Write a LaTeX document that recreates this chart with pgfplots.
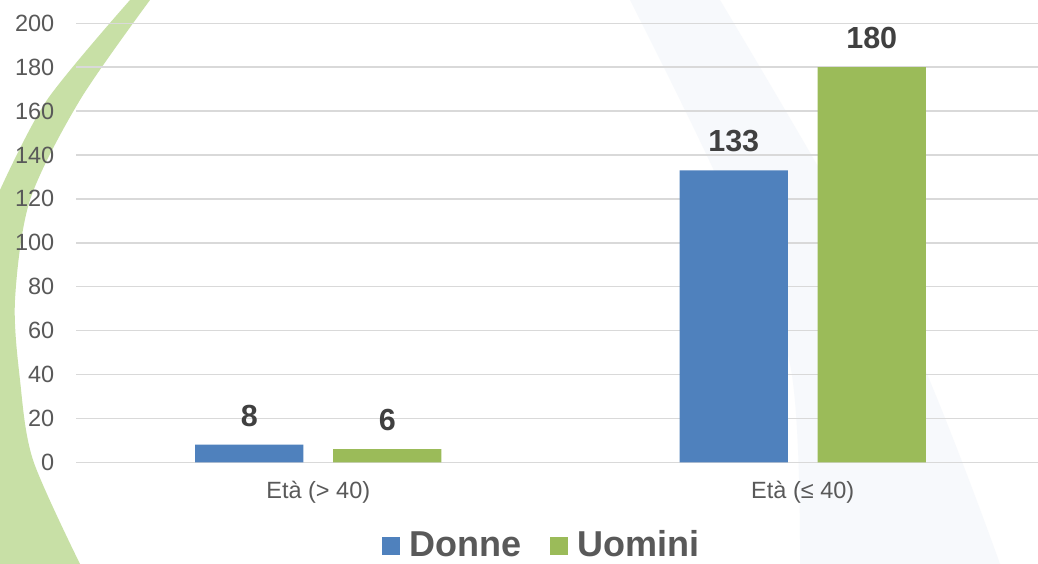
\documentclass[border=0pt]{standalone}
\usepackage{fontspec}
\setmainfont{Liberation Sans}
\usepackage{pgfplots}
\pgfplotsset{compat=1.18}
\definecolor{cblue}{HTML}{4F81BD}
\definecolor{cgreen}{HTML}{9BBB59}
\definecolor{txt}{HTML}{595959}
\definecolor{lbl}{HTML}{404040}
\definecolor{gridc}{HTML}{D9D9D9}
\definecolor{swoosh}{HTML}{C8E0A6}
\definecolor{faint}{HTML}{F7F9FC}
\begin{document}
\begin{tikzpicture}[x=1pt,y=1pt]
\useasboundingbox (0,0) rectangle (1038,564);
\fill[white] (0,0) rectangle (1038,564);
\begin{scope}
\clip (0,0) rectangle (1038,564);
\fill[faint] plot[smooth] coordinates {(630,564) (720,380) (790,200) (800,0)} -- (1000,0) -- plot[smooth] coordinates {(1000,0) (900,250) (720,564)} -- cycle;
\fill[swoosh] plot[smooth] coordinates {(130,564) (47,464) (0,374)} -- (0,0) -- (80,0) -- plot[smooth] coordinates {(80,0) (33,104) (20,184) (15,264) (30,364) (80,464) (150,564)} -- cycle;
\end{scope}
\begin{axis}[
  at={(76pt,101.7pt)}, anchor=south west,
  width=969pt, height=439pt, scale only axis,
  xmin=-0.5, xmax=1.5, ymin=0, ymax=200,
  ybar, bar width=0.223,
  axis line style={draw=none},
  major tick length=0pt,
  ytick={0,20,...,200},
  ymajorgrids, grid style={gridc, line width=1.5pt},
  xtick={0,1}, xticklabels={Età (> 40), Età (≤ 40)},
  /pgf/number format/assume math mode=true,
  yticklabel style={font=\fontsize{23.5}{28}\selectfont, text=txt, anchor=east, inner sep=0pt, xshift=-21.5pt},
  xticklabel style={font=\fontsize{23.5}{28}\selectfont, text=txt, anchor=base, inner sep=0pt, yshift=-36.7pt},
  nodes near coords,
  every node near coord/.append style={font=\bfseries\fontsize{30.5}{36}\selectfont, text=lbl, inner sep=0pt, yshift=18pt},
  legend style={at={(0.4807,-0.187)}, anchor=center, draw=none, fill=none,
    font=\bfseries\fontsize{36}{42}\selectfont, text=txt,
    /tikz/every odd column/.append style={column sep=7pt},
    /tikz/every even column/.append style={column sep=27pt}},
  legend columns=2,
  legend image code/.code={\fill[#1,draw=none] (0pt,-11pt) rectangle (18pt,7pt);},
]
\addplot[fill=cblue, draw=none, bar shift=-0.1424] coordinates {(0,8) (1,133)};
\addplot[fill=cgreen, draw=none, bar shift=0.1424] coordinates {(0,6) (1,180)};
\legend{Donne, Uomini}
\end{axis}
\end{tikzpicture}
\end{document}
